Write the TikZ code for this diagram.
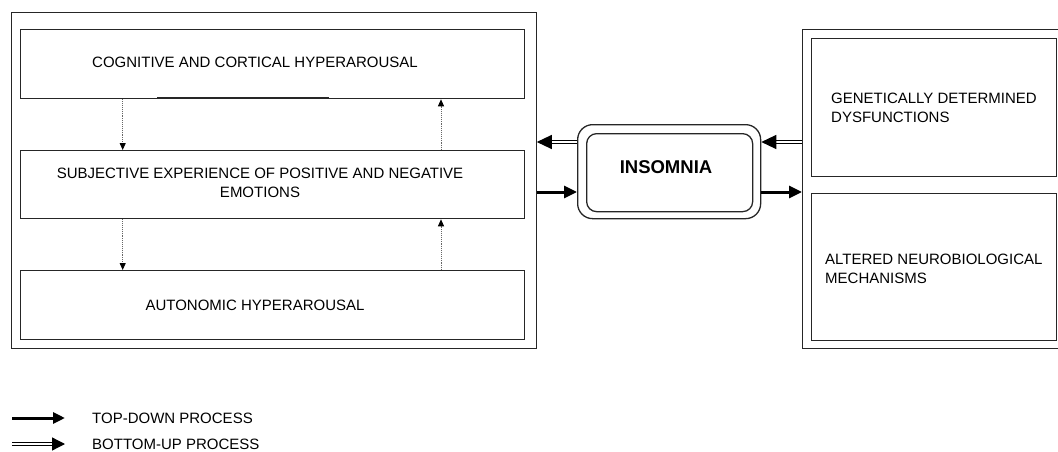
\documentclass[tikz,border=0pt]{standalone}
\usepackage{fontspec}
\setmainfont{Liberation Sans}
\usetikzlibrary{arrows.meta,calc}
\begin{document}
\begin{tikzpicture}[x=1pt,y=-1pt,
  box/.style={draw=black!85,line width=1.3pt,rectangle,inner sep=0pt,anchor=north west},
  txt/.style={font=\fontsize{15}{19}\selectfont,inner sep=0pt,align=center},
  ltxt/.style={font=\fontsize{15}{19}\selectfont,inner sep=0pt,align=left,anchor=west},
  topdown/.style={line width=3pt,-{Triangle[length=13pt,width=12pt]}},
  bottomup/.style={line width=1.3pt,double=white,double distance=1.8pt,-{Triangle[length=15pt,width=14pt]}},
  dotarrow/.style={densely dotted,draw=black!60,line width=0.9pt,-{Triangle[length=7pt,width=6pt,fill=black,color=black]}}
]
\useasboundingbox (0,0) rectangle (1058,452);
\clip (0,0) rectangle (1058,452);

% left group
\node[box,minimum width=524.5pt,minimum height=336pt] (L) at (11,12) {};
\node[box,minimum width=504pt,minimum height=69pt] (top) at (20,29) {};
\node[box,minimum width=504pt,minimum height=68pt] (mid) at (20,150) {};
\node[box,minimum width=504pt,minimum height=69pt] (bot) at (20,270) {};
\node[txt] (toptxt) at (255,62) {COGNITIVE AND CORTICAL HYPERAROUSAL};
\node[txt] (midtxt) at (260,182.5) {SUBJECTIVE EXPERIENCE OF POSITIVE AND NEGATIVE\\EMOTIONS};
\node[txt] (bottxt) at (255,305) {AUTONOMIC HYPERAROUSAL};
\coordinate (sa) at (157,98);
\coordinate (sb) at (329,98);
\draw[line width=2pt,black!85] (sa) -- (sb);

% dotted arrows
\coordinate (lx) at (122.7,0);
\coordinate (rx) at (441,0);
\draw[dotarrow] (top.south -| lx) -- (mid.north -| lx);
\draw[dotarrow] (mid.south -| lx) -- (bot.north -| lx);
\draw[dotarrow] (mid.north -| rx) -- (top.south -| rx);
\draw[dotarrow] (bot.north -| rx) -- (mid.south -| rx);

% right group
\node[box,minimum width=268pt,minimum height=319pt] (R) at (802,29) {};
\node[box,minimum width=245pt,minimum height=138pt] (gen) at (811,38) {};
\node[box,minimum width=245pt,minimum height=147pt] (alt) at (811,193) {};
\node[ltxt] (gentxt) at (831,108) {GENETICALLY DETERMINED\\DYSFUNCTIONS};
\node[ltxt] (alttxt) at (825,268.5) {ALTERED NEUROBIOLOGICAL\\MECHANISMS};

% insomnia
\node[box,rounded corners=15pt,minimum width=183pt,minimum height=94pt] (I) at (577,124) {};
\node[box,rounded corners=10pt,minimum width=166pt,minimum height=78pt] (Iin) at (586,133) {};
\node[font=\fontsize{18.5}{22}\selectfont\bfseries,inner sep=0pt] (itxt) at (666,167) {INSOMNIA};

% connectors
\coordinate (yA) at (0,142);
\coordinate (yB) at (0,192);
\draw[bottomup] (I.west |- yA) -- (L.east |- yA);
\draw[topdown] (L.east |- yB) -- (I.west |- yB);
\draw[bottomup] (R.west |- yA) -- (I.east |- yA);
\draw[topdown] (I.east |- yB) -- (R.west |- yB);

% legend
\coordinate (l1a) at (12,418);
\coordinate (l1b) at (65,418);
\coordinate (l2a) at (12,444);
\coordinate (l2b) at (65,444);
\draw[line width=3pt,-{Triangle[length=12pt,width=11pt]}] (l1a) -- (l1b);
\draw[line width=1.3pt,double=white,double distance=1.8pt,-{Triangle[length=13pt,width=13pt]}] (l2a) -- (l2b);
\node[ltxt] (leg1) at (92,418) {TOP-DOWN PROCESS};
\node[ltxt] (leg2) at (92,444) {BOTTOM-UP PROCESS};
\end{tikzpicture}
\end{document}
